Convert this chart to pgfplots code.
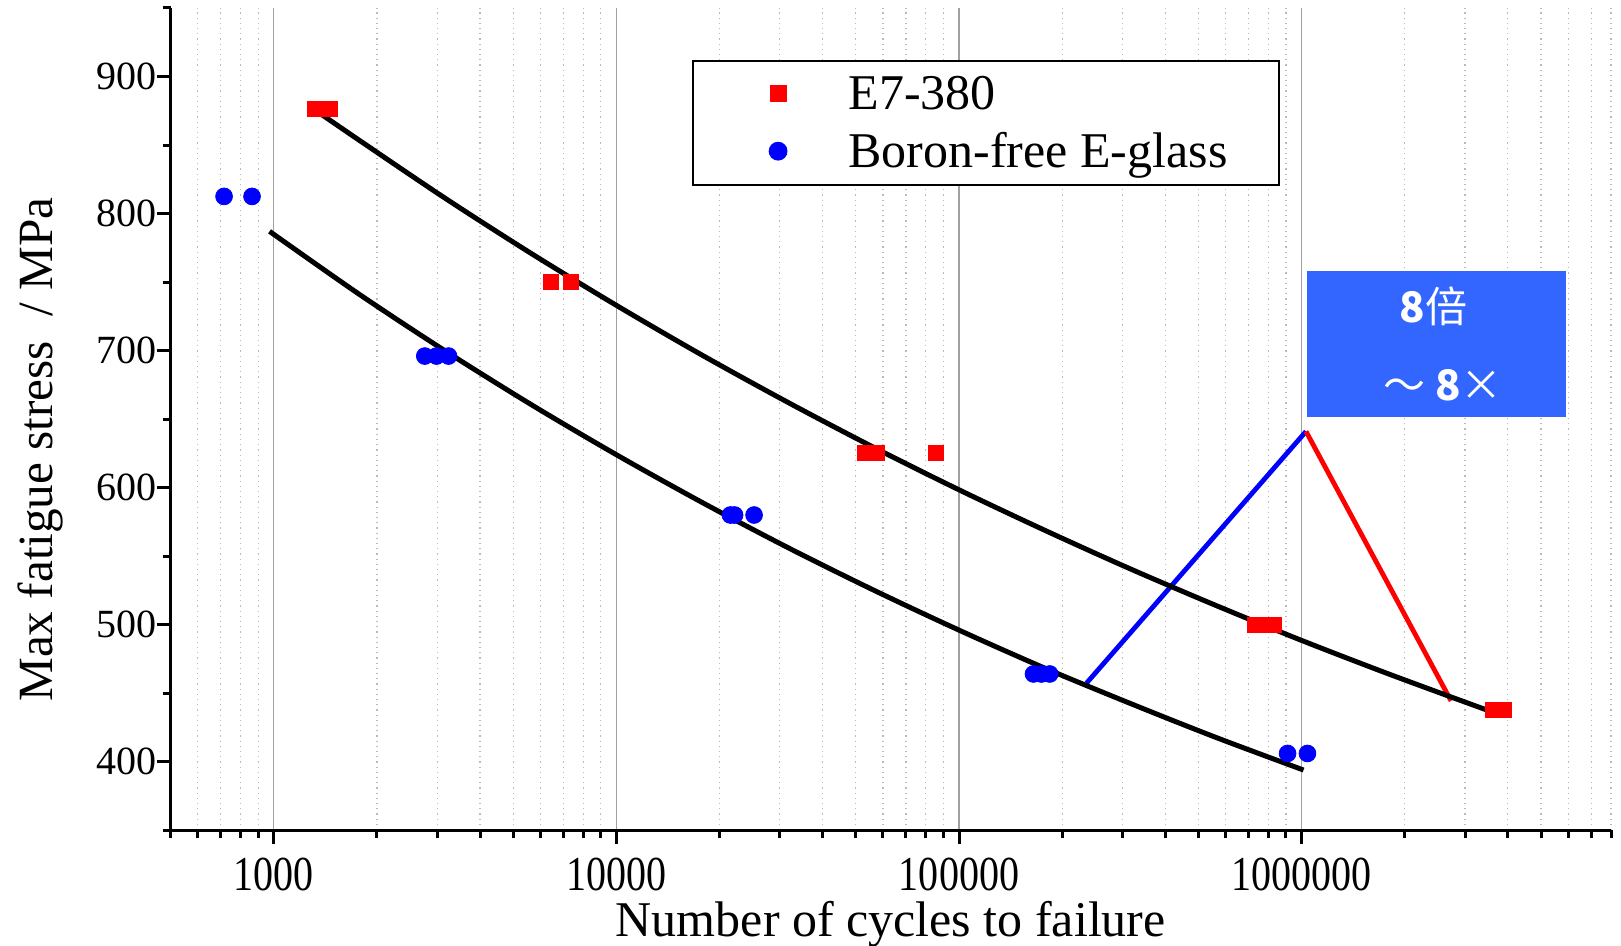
\documentclass[border=0pt]{standalone}
\usepackage{fontspec}
\setmainfont{Liberation Serif}
\newfontfamily\cjk{Noto Sans CJK SC}
\usepackage{pgfplots}
\pgfplotsset{compat=1.18}
\definecolor{boxblue}{RGB}{51,102,255}
\definecolor{majgrid}{RGB}{160,160,160}
\definecolor{mingrid}{RGB}{185,185,185}
\newcommand{\ytl}[1]{\resizebox{30pt}{!}{\fontsize{20}{24}\selectfont #1}}
\newcommand{\xtl}[1]{\scalebox{1}[1.22]{#1}}
\begin{document}
\begin{tikzpicture}
\begin{axis}[
  scale only axis, width=720pt, height=411pt,
  xmode=log, xmin=500, xmax=8e6, ymin=350, ymax=950,
  axis lines=left, axis line style={-, line width=1.5pt, black},
  tick align=outside, major tick length=7pt, minor tick length=4pt,
  tick style={black, line width=1.5pt},
  xtick={1000,10000,100000,1000000},
  xticklabels={\xtl{1000},\xtl{10000},\xtl{100000},\xtl{1000000}},
  minor xtick={500,600,700,800,900,2000,3000,4000,5000,6000,7000,8000,9000,20000,30000,40000,50000,60000,70000,80000,90000,200000,300000,400000,500000,600000,700000,800000,900000,2000000,3000000,4000000,5000000,6000000,7000000,8000000},
  ytick={400,500,600,700,800,900},
  yticklabels={\ytl{400},\ytl{500},\ytl{600},\ytl{700},\ytl{800},\ytl{900}},
  minor ytick={350,450,550,650,750,850,950},
  xmajorgrids, xminorgrids,
  major x grid style={majgrid, line width=0.6pt, solid},
  minor x grid style={mingrid, line width=0.6pt, dotted},
  /pgf/number format/assume math mode=true,
  xticklabel style={font=\fontsize{20}{24}\selectfont, anchor=north, inner sep=0pt, yshift=-6.8pt},
  yticklabel style={font=\fontsize{20}{24}\selectfont, anchor=east, inner sep=0pt},
  xlabel={Number of cycles to failure},
  ylabel={Max fatigue stress \ / MPa},
  xlabel style={font=\fontsize{25}{29}\selectfont, at={(axis description cs:0.5,-0.1145)}, anchor=center, inner sep=0pt},
  ylabel style={font=\fontsize{24.6}{29}\selectfont, at={(axis description cs:-0.0901,0.463)}, anchor=center},
  legend style={at={(axis description cs:0.362,0.937)}, anchor=north west, draw=black, line width=1pt,
    inner xsep=23.7pt, inner ysep=5.5pt, row sep=6pt, font=\fontsize{25}{29}\selectfont,
    cells={anchor=west, inner xsep=8pt, inner ysep=0pt}},
  legend image code/.code={\path[draw=none,fill=none] (0pt,0pt) -- (52pt,0pt); \draw[#1, only marks] plot coordinates {(18.8pt,0pt)};},
]
\coordinate (bl) at (rel axis cs:0,0);
\coordinate (tr) at (rel axis cs:1,1);

% E7-380
\addplot[only marks, mark=square*, mark size=3.75pt, color=red, mark options={draw=none}] coordinates {
 (1321,876) (1455,876)
 (6435,750) (7380,750)
 (53060,625) (57540,625) (85790,625)
 (730000,500) (780000,500) (830000,500)
 (3610000,437.5) (3890000,437.5)
};
\addlegendentry{E7-380}
% Boron-free E-glass
\addplot[only marks, mark=*, mark size=4.2pt, color=blue, mark options={draw=none}] coordinates {
 (716,812.5) (864,812.5)
 (2759,696) (2985,696) (3237,696)
 (21520,580) (22130,580) (25230,580)
 (165000,464) (174000,464) (184000,464)
 (910000,406) (1040000,406)
};
\addlegendentry{Boron-free E-glass}

% annotation lines
\addplot[blue, line width=2.4pt, forget plot] coordinates {(235600,457.3) (1030000,641)};
\addplot[red, line width=2.4pt, forget plot] coordinates {(1030000,641) (2730000,444.4)};

% fitted curves
\addplot[black, line width=2.5pt, smooth, forget plot] coordinates {
 (1330,875) (1778,853.4) (3162,811.2) (5623,771.1) (10000,733.0) (17783,696.7)
 (31623,662.3) (56234,629.5) (100000,598.4) (177828,568.9) (316228,540.7)
 (562341,514.0) (1000000,488.5) (1778279,464.4) (3162278,441.4) (3775000,434.5)
};
\addplot[black, line width=2.5pt, smooth, forget plot] coordinates {
 (972,787) (1778,741.0) (3162,699.8) (5623,660.8) (10000,624.0) (17783,589.2)
 (31623,556.3) (56234,525.3) (100000,496.0) (177828,468.3) (316228,442.5)
 (562341,417.7) (1013000,393.9)
};

% annotation box
\fill[boxblue] (axis cs:1038000,651.6) rectangle (axis cs:5900000,757.8);
\node[text=white, font=\cjk\fontsize{21}{25}\selectfont] at (axis cs:2430000,732) {\textbf{8}倍};
\node[text=white, font=\cjk\fontsize{21}{25}\selectfont] at (axis cs:2590000,674.6) {～ \textbf{8}×};
\end{axis}
\pgfresetboundingbox
\path ([shift={(-85.3pt,-57.5pt)}]bl) rectangle ([shift={(5pt,4pt)}]tr);
\end{tikzpicture}
\end{document}
